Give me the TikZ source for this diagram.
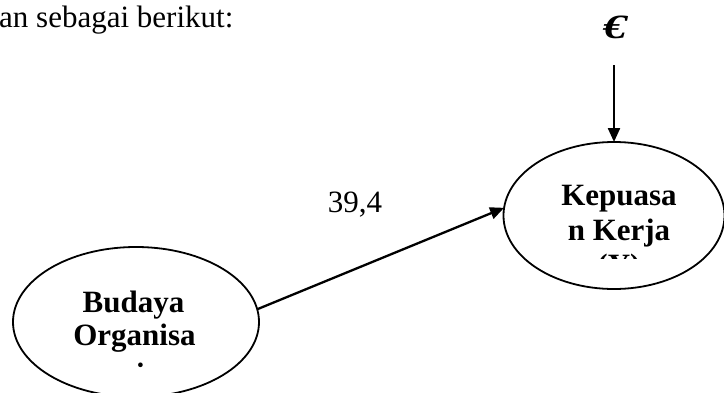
\documentclass[tikz,border=0pt]{standalone}
\usepackage{fontspec}
\setmainfont{Liberation Serif}
\usetikzlibrary{arrows.meta,shapes.geometric}
\begin{document}
\begin{tikzpicture}[x=1pt,y=-1pt,
  construct/.style={draw,ellipse,line width=1.8pt,inner sep=0pt,outer sep=0pt},
  boxtext/.style={anchor=base,inner sep=0pt,font=\fontsize{31}{35}\selectfont\bfseries},
  plaintext/.style={anchor=base,inner sep=0pt,font=\fontsize{31}{35}\selectfont},
  conn/.style={line width=2.3pt,-{Triangle[length=14pt,width=12pt]}}]
  \useasboundingbox (0,0) rectangle (724,392);

  % running text above the figure
  \node[plaintext,anchor=base west] (lead) at (-1,27) {an sebagai berikut:};

  % latent constructs
  \node[construct,minimum width=246pt,minimum height=150pt] (B) at (136,322) {};
  \node[construct,minimum width=221pt,minimum height=147pt] (K) at (614,215.5) {};

  % labels of the constructs, cut off by their text frames
  \begin{scope}
    \clip (40,270) rectangle (230,367);
    \node[boxtext] (b1) at (133.5,312) {Budaya};
    \node[boxtext] (b2) at (134.5,345) {Organisa};
    \node[boxtext] (b3) at (134.5,384) {si};
  \end{scope}
  \begin{scope}
    \clip (530,165) rectangle (700,258);
    \node[boxtext] (k1) at (619,205) {Kepuasa};
    \node[boxtext] (k2) at (619,240) {n Kerja};
    \node[boxtext] (k3) at (619,275) {(Y)};
  \end{scope}

  % error term
  \node[inner sep=0pt,font=\fontsize{34}{34}\selectfont\bfseries\itshape] (eps) at (615,27) {\scalebox{1.4}[1]{€}};
  \coordinate (e0) at (614,65);
  \draw[conn] (e0) -- (K.north);

  % path coefficient
  \draw[conn] (B.6) -- (K.176);
  \node[plaintext] (coef) at (355,212) {39,4};
\end{tikzpicture}
\end{document}
